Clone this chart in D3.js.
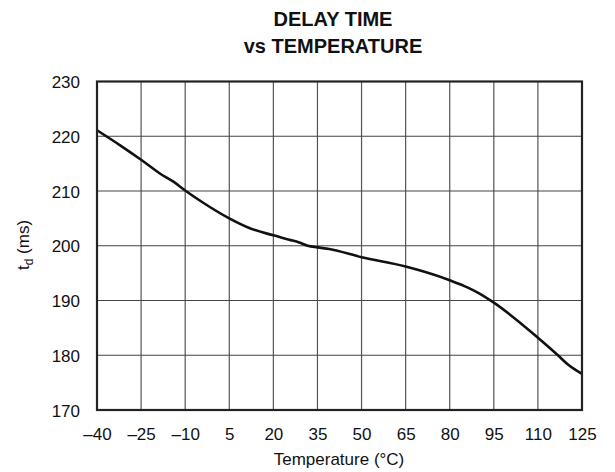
<!DOCTYPE html>
<html>
<head>
<meta charset="utf-8">
<script src="https://cdn.jsdelivr.net/npm/d3@7"></script>
<style>
  html, body { margin: 0; padding: 0; background: #fff; }
  svg { display: block; }
  text { font-family: "Liberation Sans", Arial, sans-serif; fill: #111; }
</style>
</head>
<body>
<script>
// Data
const temperatures = [-40, -32, -25, -18.6, -14, -10, -4, 5, 12, 20, 25.4, 28.8, 31.7, 35, 39, 50, 65, 80, 86, 90, 95, 110, 117, 120, 125];
const delayMs      = [221.1, 218.3, 215.7, 213.2, 211.7, 210.1, 207.9, 205.0, 203.2, 201.9, 201.1, 200.6, 200.0, 199.7, 199.4, 197.9, 196.2, 193.7, 192.4, 191.3, 189.6, 183.2, 179.9, 178.4, 176.6];
const xTicks = [-40, -25, -10, 5, 20, 35, 50, 65, 80, 95, 110, 125];
const yTicks = [170, 180, 190, 200, 210, 220, 230];
const titleLines = ["DELAY TIME", "vs TEMPERATURE"];

const W = 615, H = 472;
const m = { left: 97, right: 33, top: 81.5, bottom: 62 };
const iw = W - m.left - m.right, ih = H - m.top - m.bottom;

const svg = d3.select("body").append("svg").attr("width", W).attr("height", H);

const x = d3.scaleLinear().domain([-40, 125]).range([m.left, m.left + iw]);
const y = d3.scaleLinear().domain([170, 230]).range([m.top + ih, m.top]);

// Grid
const g = svg.append("g");
g.selectAll("line.v").data(xTicks).join("line")
  .attr("x1", d => x(d)).attr("x2", d => x(d))
  .attr("y1", m.top).attr("y2", m.top + ih)
  .attr("stroke", "#555").attr("stroke-width", 1.2);
g.selectAll("line.h").data(yTicks).join("line")
  .attr("x1", m.left).attr("x2", m.left + iw)
  .attr("y1", d => y(d)).attr("y2", d => y(d))
  .attr("stroke", "#444").attr("stroke-width", 1.2);

// X axis labels
const xAxis = d3.axisBottom(x).tickValues(xTicks).tickSize(0).tickPadding(0)
  .tickFormat(d => d < 0 ? "\u2013" + Math.abs(d) : String(d));
const xg = svg.append("g").attr("transform", `translate(0,${m.top + ih})`).call(xAxis);
xg.select(".domain").remove();
xg.selectAll("text").attr("dy", null).attr("y", 30).style("font-size", "17px")
  .style("font-family", '"Liberation Sans", Arial, sans-serif').attr("fill", "#111");

// Y axis labels
const yAxis = d3.axisLeft(y).tickValues(yTicks).tickSize(0).tickPadding(17);
const yg = svg.append("g").attr("transform", `translate(${m.left},0)`).call(yAxis);
yg.select(".domain").remove();
yg.selectAll("text").attr("dy", "0.36em").style("font-size", "17px")
  .style("font-family", '"Liberation Sans", Arial, sans-serif').attr("fill", "#111");

// Curve
const line = d3.line()
  .x((d, i) => x(temperatures[i]))
  .y(d => y(d))
  .curve(d3.curveMonotoneX);
svg.append("path").datum(delayMs)
  .attr("d", line)
  .attr("fill", "none").attr("stroke", "#111").attr("stroke-width", 2.6)
  .attr("stroke-linejoin", "round");

// Frame
svg.append("rect").attr("x", m.left).attr("y", m.top).attr("width", iw).attr("height", ih)
  .attr("fill", "none").attr("stroke", "#222").attr("stroke-width", 2.2);

// Title
svg.append("text").attr("x", 333).attr("y", 26).attr("text-anchor", "middle")
  .style("font-size", "20px").style("font-weight", "bold").text(titleLines[0]);
svg.append("text").attr("x", 333).attr("y", 53).attr("text-anchor", "middle")
  .style("font-size", "20px").style("font-weight", "bold").text(titleLines[1]);

// X axis title
svg.append("text").attr("x", 339).attr("y", 465).attr("text-anchor", "middle")
  .style("font-size", "17px").text("Temperature (\u00B0C)");

// Y axis title
const yt = svg.append("text").attr("transform", `translate(29,245) rotate(-90)`)
  .attr("text-anchor", "middle").style("font-size", "17px");
yt.append("tspan").text("t");
yt.append("tspan").attr("dy", 4).style("font-size", "12px").text("d");
yt.append("tspan").attr("dy", -4).text(" (ms)");
</script>
</body>
</html>
